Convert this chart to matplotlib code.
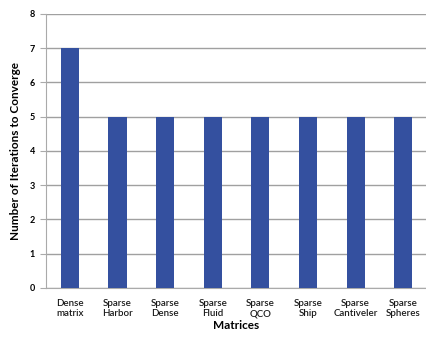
import matplotlib
matplotlib.use("Agg")
import matplotlib.pyplot as plt

categories = ["Dense\nmatrix", "Sparse\nHarbor", "Sparse\nDense", "Sparse\nFluid",
              "Sparse\nQCO", "Sparse\nShip", "Sparse\nCantiveler", "Sparse\nSpheres"]
iterations = [7, 5, 5, 5, 5, 5, 5, 5]
yticks = [0, 1, 2, 3, 4, 5, 6, 7, 8]

plt.rcParams['font.family'] = ['Lato', 'DejaVu Sans']

fig = plt.figure(figsize=(4.27, 3.46), dpi=100)
ax = fig.add_axes([0.108, 0.168, 0.892, 0.792])

x = list(range(len(categories)))
ax.bar(x, iterations, width=0.38, color="#34509f", zorder=3)
ax.set_xlim(-0.5, len(categories) - 0.5)
ax.set_ylim(0, 8)
ax.set_yticks(yticks)
ax.set_yticklabels([str(t) for t in yticks], fontsize=6.5, fontweight="bold")
ax.set_xticks(x)
ax.set_xticklabels(categories, fontsize=7, color="#1a1a1a", fontweight="semibold")
ax.grid(axis="y", color="#a0a0a0", linewidth=1.0, zorder=0)
for s in ["top", "right"]:
    ax.spines[s].set_visible(False)
ax.spines["left"].set_color("#aaaaaa")
ax.spines["bottom"].set_color("#aaaaaa")
ax.tick_params(axis="y", length=4, color="#aaaaaa", pad=4)
ax.tick_params(axis="x", length=0, pad=8)
ax.set_ylabel("Number of Iterations to Converge", fontsize=8.5, fontweight="bold", labelpad=6)
ax.set_xlabel("Matrices", fontsize=8.5, fontweight="bold", labelpad=1)

fig.savefig("out.png", dpi=100)
